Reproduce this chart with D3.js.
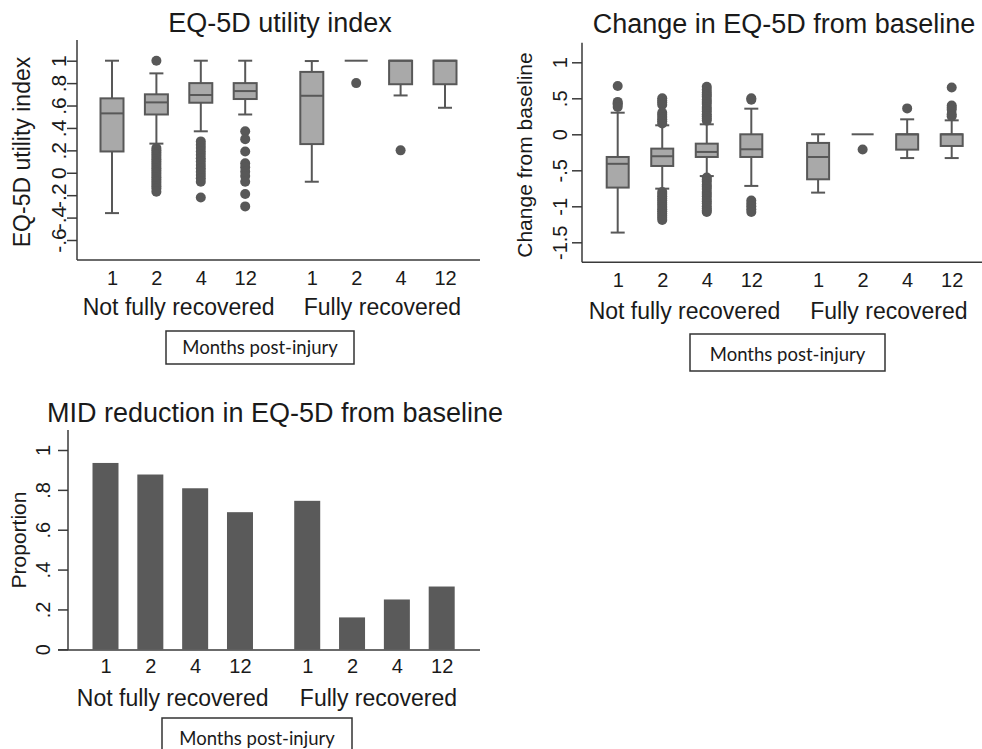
<!DOCTYPE html>
<html>
<head>
<meta charset="utf-8">
<script src="https://cdnjs.cloudflare.com/ajax/libs/d3/7.8.5/d3.min.js"></script>
<title>EQ-5D</title>
<style>
  body { margin: 0; background: #fff; }
  text { font-family: "Liberation Sans", Arial, sans-serif; fill: #1a1a1a; }
  .note { font-family: Lato, "Open Sans", sans-serif; }
</style>
</head>
<body>
<div id="container"></div>
<script>
// categories
var months = ["1", "2", "4", "12"];
var groups = ["Not fully recovered", "Fully recovered"];

// EQ-5D utility index, order: NFR 1,2,4,12 then FR 1,2,4,12
var utilLo  = [-0.36, 0.26, 0.37, 0.52, -0.08, 1.0, 0.69, 0.58];
var utilQ1  = [0.19, 0.52, 0.625, 0.658, 0.256, 1.0, 0.79, 0.79];
var utilMed = [0.53, 0.628, 0.694, 0.729, 0.687, 1.0, 1.0, 1.0];
var utilQ3  = [0.664, 0.70, 0.80, 0.80, 0.90, 1.0, 1.0, 1.0];
var utilHi  = [1.0, 0.887, 1.0, 1.0, 0.997, 1.0, 1.0, 1.0];
var utilOut = [
  [],
  [1.0, 0.22, 0.2, 0.18, 0.16, 0.14, 0.12, 0.1, 0.08, 0.06, 0.04, 0.02, 0, -0.02, -0.04, -0.06, -0.08, -0.1, -0.12, -0.14, -0.17],
  [0.28, 0.25, 0.22, 0.19, 0.16, 0.13, 0.1, 0.07, 0.04, 0.01, -0.02, -0.05, -0.08, -0.22],
  [0.37, 0.3, 0.19, 0.085, 0.05, 0.01, -0.03, -0.08, -0.19, -0.3],
  [],
  [0.8],
  [0.2],
  []
];
var utilTicks = [-0.6, -0.4, -0.2, 0, 0.2, 0.4, 0.6, 0.8, 1];

// change from baseline
var chgLo  = [-1.365, -0.755, -0.58, -0.717, -0.81, 0, -0.33, -0.33];
var chgQ1  = [-0.74, -0.44, -0.315, -0.315, -0.625, 0, -0.213, -0.162];
var chgMed = [-0.41, -0.305, -0.245, -0.208, -0.315, 0, 0, 0];
var chgQ3  = [-0.315, -0.199, -0.13, 0, -0.12, 0, 0, 0];
var chgHi  = [0.30, 0.125, 0.139, 0.356, 0, 0, 0.208, 0.194];
var chgOut = [
  [0.67, 0.45, 0.43, 0.41, 0.38],
  [0.5, 0.47, 0.44, 0.41, 0.3, 0.27, 0.24, 0.21, 0.18, 0.15,
   -0.8, -0.83, -0.86, -0.89, -0.92, -0.95, -0.98, -1.01, -1.04, -1.07, -1.1, -1.13, -1.16, -1.19],
  [0.66, 0.62, 0.58, 0.55, 0.52, 0.48, 0.45, 0.42, 0.38, 0.35, 0.32, 0.28, 0.25, 0.22, 0.19,
   -0.6, -0.63, -0.66, -0.7, -0.73, -0.76, -0.8, -0.83, -0.86, -0.9, -0.93, -0.96, -1.0, -1.03, -1.06, -1.08],
  [0.5, 0.48, -0.92, -0.96, -1.0, -1.04, -1.08],
  [],
  [-0.21],
  [0.36],
  [0.65, 0.4, 0.37, 0.34, 0.28, 0.25]
];
var chgTicks = [-1.5, -1, -0.5, 0, 0.5, 1];

// proportion with MID reduction
var midProp = [0.935, 0.877, 0.808, 0.688, 0.745, 0.16, 0.25, 0.315];
var midTicks = [0, 0.2, 0.4, 0.6, 0.8, 1];

var boxFill = "#a9a9a9", ink = "#585858", axisCol = "#3a3a3a";

var svg = d3.select("#container").append("svg")
    .attr("width", 982)
    .attr("height", 749);

// Stata style labels: .2 instead of 0.2
function stataFmt(d) {
  return String(d).replace(/^(-?)0\./, "$1.");
}
function slot(i) {
  return i % 4 + Math.floor(i / 4) * 4.5;
}

function frame(p, y, ticks) {
  var g = svg.append("g");
  var x = d3.scaleLinear().domain([0, 7.5]).range(p.xr);

  // y axis
  var ax = g.append("g")
      .attr("transform", "translate(" + p.ax + ",0)")
      .call(d3.axisLeft(y).tickValues(ticks).tickSize(10).tickFormat(stataFmt));
  ax.select(".domain").remove();
  ax.selectAll("line").attr("stroke", axisCol).attr("stroke-width", 1.5);
  ax.selectAll("text")
      .attr("x", null).attr("dy", null)
      .attr("text-anchor", "middle")
      .attr("transform", "translate(" + (-p.lab) + ",0) rotate(-90)")
      .style("font-size", p.tickFs + "px")
      .style("font-family", "Liberation Sans, Arial, sans-serif")
      .attr("fill", "#1a1a1a");

  g.append("line")
      .attr("x1", p.ax).attr("x2", p.ax)
      .attr("y1", p.top).attr("y2", p.bottom)
      .attr("stroke", axisCol).attr("stroke-width", 1.5);
  g.append("line")
      .attr("x1", p.xl).attr("x2", p.right)
      .attr("y1", p.bottom).attr("y2", p.bottom)
      .attr("stroke", axisCol).attr("stroke-width", 1.5);

  // x labels
  var bx = g.append("g")
      .attr("transform", "translate(0," + p.bottom + ")")
      .call(d3.axisBottom(x).tickValues(d3.range(8).map(slot)).tickSize(0)
        .tickFormat(function(d, i) { return months[i % 4]; }));
  bx.select(".domain").remove();
  bx.selectAll("text")
      .attr("y", p.xlab).attr("dy", null)
      .style("font-size", "20px")
      .style("font-family", "Liberation Sans, Arial, sans-serif")
      .attr("fill", "#1a1a1a");

  g.selectAll("text.grp")
      .data(groups)
      .enter()
      .append("text")
      .attr("class", "grp")
      .attr("x", function(d, i) { return (x(i * 4.5) + x(i * 4.5 + 3)) / 2 + i * 4; })
      .attr("y", p.grpY)
      .attr("text-anchor", "middle")
      .style("font-size", "23px")
      .text(function(d) { return d; });

  g.append("text")
      .attr("x", p.titleX).attr("y", p.titleY)
      .attr("text-anchor", "middle")
      .style("font-size", "27px")
      .text(p.title);

  g.append("text")
      .attr("transform", "translate(" + p.ytX + "," + p.ytY + ") rotate(-90)")
      .attr("text-anchor", "middle")
      .style("font-size", p.ytFs + "px")
      .text(p.ytitle);

  // note box
  g.append("rect")
      .attr("x", p.nb[0]).attr("y", p.nb[1])
      .attr("width", p.nb[2]).attr("height", p.nb[3])
      .attr("fill", "none").attr("stroke", "#333").attr("stroke-width", 1.5);
  g.append("text")
      .attr("class", "note")
      .attr("x", p.nb[0] + p.nb[2] / 2).attr("y", p.nb[4])
      .attr("text-anchor", "middle")
      .style("font-size", "18.5px")
      .text("Months post-injury");

  return {g: g, x: x};
}

function boxPanel(p, y, ticks, lo, q1, med, q3, hi, out) {
  var f = frame(p, y, ticks), g = f.g, x = f.x;
  var bw = p.bw, cw = 14;
  var idx = d3.range(8);

  // whiskers
  g.selectAll("line.wu").data(idx).enter().append("line")
      .attr("x1", function(i) { return x(slot(i)); })
      .attr("x2", function(i) { return x(slot(i)); })
      .attr("y1", function(i) { return y(q3[i]); })
      .attr("y2", function(i) { return y(hi[i]); })
      .attr("stroke", ink).attr("stroke-width", 2);
  g.selectAll("line.wl").data(idx).enter().append("line")
      .attr("x1", function(i) { return x(slot(i)); })
      .attr("x2", function(i) { return x(slot(i)); })
      .attr("y1", function(i) { return y(q1[i]); })
      .attr("y2", function(i) { return y(lo[i]); })
      .attr("stroke", ink).attr("stroke-width", 2);
  [hi, lo].forEach(function(arr, k) {
    var edge = k === 0 ? q3 : q1;
    g.selectAll("line.cap" + k)
        .data(idx.filter(function(i) { return arr[i] !== edge[i]; }))
        .enter().append("line")
        .attr("x1", function(i) { return x(slot(i)) - cw / 2; })
        .attr("x2", function(i) { return x(slot(i)) + cw / 2; })
        .attr("y1", function(i) { return y(arr[i]); })
        .attr("y2", function(i) { return y(arr[i]); })
        .attr("stroke", ink).attr("stroke-width", 2);
  });

  // boxes
  g.selectAll("rect.box").data(idx).enter().append("rect")
      .attr("x", function(i) { return x(slot(i)) - bw / 2; })
      .attr("y", function(i) { return y(q3[i]); })
      .attr("width", bw)
      .attr("height", function(i) { return y(q1[i]) - y(q3[i]); })
      .attr("fill", boxFill).attr("stroke", ink).attr("stroke-width", 2);
  g.selectAll("line.med").data(idx).enter().append("line")
      .attr("x1", function(i) { return x(slot(i)) - bw / 2; })
      .attr("x2", function(i) { return x(slot(i)) + bw / 2; })
      .attr("y1", function(i) { return y(med[i]); })
      .attr("y2", function(i) { return y(med[i]); })
      .attr("stroke", ink).attr("stroke-width", 2);

  // outliers
  var pts = [];
  out.forEach(function(arr, i) {
    arr.forEach(function(v) { pts.push({i: i, v: v}); });
  });
  g.selectAll("circle.out").data(pts).enter().append("circle")
      .attr("cx", function(d) { return x(slot(d.i)); })
      .attr("cy", function(d) { return y(d.v); })
      .attr("r", 5)
      .attr("fill", ink);
}

// panel 1
var p1 = {xr: [112, 445], ax: 77, top: 40, bottom: 260, right: 480, xl: 77,
  lab: 11, tickFs: 21, xlab: 25, grpY: 315, titleX: 280, titleY: 32,
  title: "EQ-5D utility index", ytitle: "EQ-5D utility index", ytX: 30, ytY: 152, ytFs: 23,
  nb: [166, 331, 188, 33, 354], bw: 23};
var y1 = d3.scaleLinear().domain([-0.6, 1]).range([240, 60.7]);
boxPanel(p1, y1, utilTicks, utilLo, utilQ1, utilMed, utilQ3, utilHi, utilOut);

// panel 2
var p2 = {xr: [617.7, 951.7], ax: 582, top: 42.7, bottom: 262.3, right: 982, xl: 582,
  lab: 15, tickFs: 20, xlab: 25, grpY: 319, titleX: 784, titleY: 33,
  title: "Change in EQ-5D from baseline", ytitle: "Change from baseline", ytX: 532, ytY: 155, ytFs: 21,
  nb: [690, 334, 195, 37, 361], bw: 22};
var y2 = d3.scaleLinear().domain([-1.5, 1]).range([242.3, 62.3]);
boxPanel(p2, y2, chgTicks, chgLo, chgQ1, chgMed, chgQ3, chgHi, chgOut);

// panel 3
var p3 = {xr: [105.5, 441.7], ax: 68, top: 430, bottom: 650, right: 480, xl: 58,
  lab: 18, tickFs: 20, xlab: 23, grpY: 706, titleX: 275, titleY: 422,
  title: "MID reduction in EQ-5D from baseline", ytitle: "Proportion", ytX: 26, ytY: 540, ytFs: 21,
  nb: [162, 718, 190, 50, 745]};
var y3 = d3.scaleLinear().domain([0, 1]).range([649.3, 450]);
var f3 = frame(p3, y3, midTicks);
f3.g.selectAll("rect.bar")
    .data(midProp)
    .enter()
    .append("rect")
    .attr("x", function(d, i) { return f3.x(slot(i)) - 13; })
    .attr("y", function(d) { return y3(d); })
    .attr("width", 26)
    .attr("height", function(d) { return y3(0) - y3(d); })
    .attr("fill", "#5a5a5a");
f3.g.selectAll("line").raise();
</script>
</body>
</html>
